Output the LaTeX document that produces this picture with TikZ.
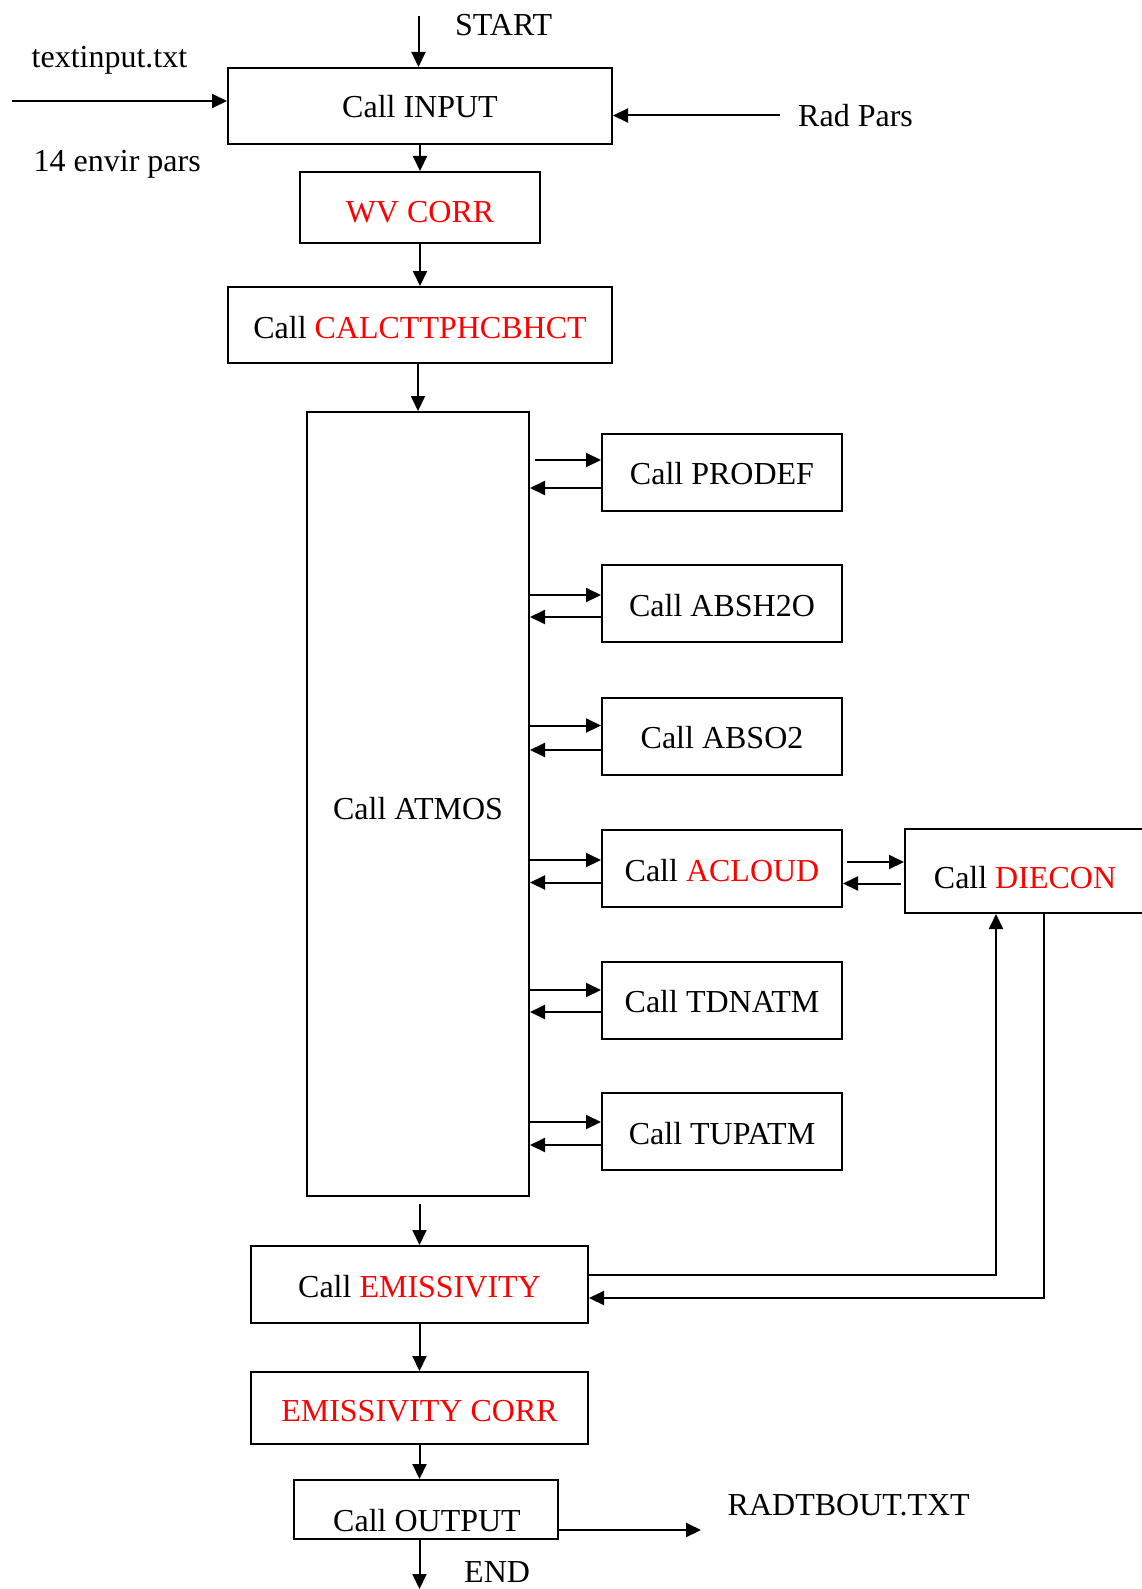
\documentclass[tikz,border=0pt]{standalone}
\usepackage{fontspec}
\setmainfont{Liberation Serif}
\usetikzlibrary{arrows.meta,calc}
\begin{document}
\begin{tikzpicture}[x=1pt,y=-1pt,
  box/.style={draw,line width=2pt,inner sep=0pt,text height=26pt,text depth=0pt,font=\fontsize{32}{38}\selectfont},
  lbl/.style={inner sep=0pt,anchor=base west,font=\fontsize{32}{38}\selectfont},
  arr/.style={line width=2pt,-{Triangle[length=15pt,width=14pt]}},
  ln/.style={line width=2pt}]
\useasboundingbox (0,0) rectangle (1141,1589);
% boxes
\node[box,text height=24pt,minimum width=384pt,minimum height=76pt] (input) at (420,106) {Call INPUT};
\node[box,text height=31pt,minimum width=240pt,minimum height=71pt] (wv) at (420,207.5) {\textcolor{red}{WV CORR}};
\node[box,minimum width=384pt,minimum height=76pt] (calc) at (420,325) {Call \textcolor{red}{CALCTTPHCBHCT}};
\node[box,text height=30pt,minimum width=222pt,minimum height=784pt] (atmos) at (418,804) {Call ATMOS};
\node[box,text height=24pt,minimum width=240pt,minimum height=77pt] (prodef) at (722,472.5) {Call PRODEF};
\node[box,minimum width=240pt,minimum height=77pt] (absh) at (722,603.5) {Call ABSH2O};
\node[box,text height=24pt,minimum width=240pt,minimum height=77pt] (abso) at (722,736.5) {Call ABSO2};
\node[box,minimum width=240pt,minimum height=77pt] (acloud) at (722,868) {Call \textcolor{red}{ACLOUD}};
\node[box,text height=24pt,minimum width=240pt,minimum height=77pt] (tdn) at (722,1000.5) {Call TDNATM};
\node[box,minimum width=240pt,minimum height=77pt] (tup) at (722,1131.5) {Call TUPATM};
\node[box,text height=34pt,minimum width=240pt,minimum height=84pt] (diecon) at (1025,871) {Call \textcolor{red}{DIECON}};
\node[box,minimum width=337pt,minimum height=77pt] (emis) at (419.5,1284.5) {Call \textcolor{red}{EMISSIVITY}};
\node[box,text height=27pt,minimum width=337pt,minimum height=72pt] (corr) at (419.5,1408) {\textcolor{red}{EMISSIVITY CORR}};
\node[box,minimum width=264pt,minimum height=59pt] (output) at (426,1509.5) {};
\node[lbl,anchor=base] (outtxt) at (427,1531) {Call OUTPUT};
% labels
\node[lbl] (start) at (455,35.5) {START};
\node[lbl] (tin) at (31.5,68) {textinput.txt};
\node[lbl] (env) at (33.5,172) {14 envir pars};
\node[lbl] (rad) at (798,127) {Rad Pars};
\node[lbl] (rout) at (727.5,1515) {RADTBOUT.TXT};
\node[lbl] (endl) at (464,1582) {END};
% main flow
\coordinate (s0) at (418.5,16);
\draw[arr] (s0) -- (s0 |- input.north);
\coordinate (ti) at (12,101);
\draw[arr] (ti) -- (ti -| input.west);
\coordinate (rp) at (780,115.5);
\draw[arr] (rp) -- (rp -| input.east);
\draw[arr] (input.south) -- (wv.north);
\draw[arr] (wv.south) -- (calc.north);
\draw[arr] (calc.south -| atmos.north) -- (atmos.north);
\draw[arr,shorten <=7pt] (atmos.south -| emis.north) -- (emis.north);
\draw[arr] (emis.south) -- (corr.north);
\draw[arr] (corr.south) -- (corr.south |- output.north);
\coordinate (ro) at (701,1530);
\draw[arr] (ro -| output.east) -- (ro);
\coordinate (ep) at (419.5,1589);
\draw[arr] (ep |- output.south) -- (ep);
% ATMOS <-> subroutines
\coordinate (p1) at ([yshift=12.5pt]prodef.west);
\coordinate (p2) at ([yshift=-15.5pt]prodef.west);
\draw[arr,shorten <=5pt] (p1 -| atmos.east) -- (p1);
\draw[arr] (p2) -- (p2 -| atmos.east);
\coordinate (h1) at ([yshift=8.5pt]absh.west);
\coordinate (h2) at ([yshift=-13.5pt]absh.west);
\draw[arr] (h1 -| atmos.east) -- (h1);
\draw[arr] (h2) -- (h2 -| atmos.east);
\coordinate (o1) at ([yshift=11pt]abso.west);
\coordinate (o2) at ([yshift=-13.5pt]abso.west);
\draw[arr] (o1 -| atmos.east) -- (o1);
\draw[arr] (o2) -- (o2 -| atmos.east);
\coordinate (c1) at ([yshift=8pt]acloud.west);
\coordinate (c2) at ([yshift=-14.5pt]acloud.west);
\draw[arr] (c1 -| atmos.east) -- (c1);
\draw[arr] (c2) -- (c2 -| atmos.east);
\coordinate (t1) at ([yshift=10.5pt]tdn.west);
\coordinate (t2) at ([yshift=-11.5pt]tdn.west);
\draw[arr] (t1 -| atmos.east) -- (t1);
\draw[arr] (t2) -- (t2 -| atmos.east);
\coordinate (u1) at ([yshift=9.5pt]tup.west);
\coordinate (u2) at ([yshift=-13.5pt]tup.west);
\draw[arr] (u1 -| atmos.east) -- (u1);
\draw[arr] (u2) -- (u2 -| atmos.east);
% ACLOUD <-> DIECON
\coordinate (d1) at (905,862);
\coordinate (d2) at (905,883.5);
\draw[arr,shorten <=4pt] (d1 -| acloud.east) -- (d1 -| diecon.west);
\draw[arr,shorten <=3pt] (d2 -| diecon.west) -- (d2 -| acloud.east);
% EMISSIVITY <-> DIECON
\coordinate (e1) at (996,1275);
\draw[arr] (e1 -| emis.east) -- (e1) -- (e1 |- diecon.south);
\coordinate (e2) at (1044,1298);
\draw[arr] (e2 |- diecon.south) -- (e2) -- (e2 -| emis.east);
\end{tikzpicture}
\end{document}
